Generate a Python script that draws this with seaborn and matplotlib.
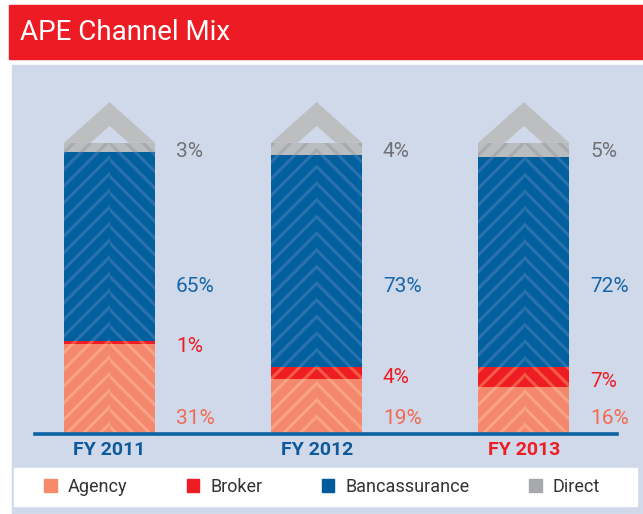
import numpy as np
import pandas as pd
import matplotlib.pyplot as plt
import seaborn as sns
from matplotlib.patches import Rectangle, Polygon, Patch

years = ['FY 2011', 'FY 2012', 'FY 2013']
agency = [31, 19, 16]
broker = [1, 4, 7]
banc = [65, 73, 72]
direct = [3, 4, 5]
channels = ['Agency', 'Broker', 'Bancassurance', 'Direct']

sns.set_style('white')
plt.rcParams['font.family'] = ['Roboto', 'DejaVu Sans']
plt.rcParams['hatch.linewidth'] = 2.2

fills = {'Agency': '#f4886c', 'Broker': '#ee1d23', 'Bancassurance': '#03609f', 'Direct': '#babcbf'}
hatches = {'Agency': '#f9a286', 'Broker': '#f55a44', 'Bancassurance': '#2a72ad', 'Direct': '#a8aaae'}
legend_cols = {'Agency': '#f68b6c', 'Broker': '#ee1d23', 'Bancassurance': '#005b9a', 'Direct': '#a7a9ac'}
label_cols = {'Agency': '#f26a4f', 'Broker': '#ee1d23', 'Bancassurance': '#1565a8', 'Direct': '#707174'}

df = pd.DataFrame({'year': years, 'Agency': agency, 'Broker': broker,
                   'Bancassurance': banc, 'Direct': direct})
cum = df[channels].cumsum(axis=1)

W, H = 643, 514
fig = plt.figure(figsize=(W / 100, H / 100), dpi=100)
fig.patch.set_facecolor('white')

# panel + title bar
fig.patches.append(Rectangle((12 / W, 0), 1, (H - 65) / H, transform=fig.transFigure,
                             color='#cfd9ea', zorder=-10))
fig.patches.append(Rectangle((9 / W, (H - 59) / H), 1, 54 / H, transform=fig.transFigure,
                             color='#ed1c24', zorder=-10))
fig.text(20 / W, (H - 32) / H, 'APE Channel Mix', color='white', fontsize=20,
         va='center', ha='left')

ax = fig.add_axes([35 / W, (H - 434) / H, 582 / W, 354 / H])
ax.set_facecolor('none')

bw = 0.44
# draw from top layer down so each layer covers the one above it
for ch in channels[::-1]:
    n0 = len(ax.patches)
    sns.barplot(x=df['year'], y=cum[ch], color=fills[ch], saturation=1, width=bw,
                hatch='//', edgecolor=hatches[ch], linewidth=0, errorbar=None, ax=ax)
    for p in ax.patches[n0:]:
        w = p.get_width()
        ax.bar(p.get_x() + w / 2, p.get_height(), width=w / 2, bottom=p.get_y(),
               align='edge', color=fills[ch], hatch='\\\\', edgecolor=hatches[ch],
               linewidth=0)
    if ch == 'Direct':
        tops = list(ax.patches[n0:n0 + len(years)])

# roof chevrons on top of each bar
for p in tops:
    x0 = p.get_x()
    w = p.get_width()
    xc = x0 + w / 2
    t = p.get_y() + p.get_height()
    pts = [(x0, t), (xc, t + 14), (x0 + w, t), (xc + 0.21 * w, t), (xc, t + 5.8),
           (xc - 0.21 * w, t)]
    ax.add_patch(Polygon(pts, closed=True, color='#bdbec0', lw=0))

# value labels
fs = 15
for i in range(len(years)):
    lx = i + 0.32
    ax.text(lx, cum['Direct'][i] - 3, f"{direct[i]}%", color=label_cols['Direct'],
            fontsize=fs, va='center')
    ax.text(lx, 50.5, f"{banc[i]}%", color=label_cols['Bancassurance'],
            fontsize=fs, va='center')
    ax.text(lx, agency[i] + broker[i] / 2 - 1.5, f"{broker[i]}%", color=label_cols['Broker'],
            fontsize=fs, va='center')
    ax.text(lx, 5.2, f"{agency[i]}%", color=label_cols['Agency'],
            fontsize=fs, va='center')

ax.set_xlim(-0.36, 2.45)
ax.set_ylim(0, 121.6)
ax.set_xlabel('')
ax.set_ylabel('')
ax.set_yticks([])
ax.set_xticks(range(len(years)))
ax.set_xticklabels(years, fontsize=14, fontweight='bold')
for lab, c in zip(ax.get_xticklabels(), ['#0d5a9c', '#0d5a9c', '#ee1d23']):
    lab.set_color(c)
ax.tick_params(axis='x', length=0, pad=5)
for s in ['top', 'left', 'right']:
    ax.spines[s].set_visible(False)
ax.spines['bottom'].set_color('#0a64a4')
ax.spines['bottom'].set_linewidth(2.6)

# legend box
fig.patches.append(Rectangle((14 / W, (H - 506) / H), 623 / W, 38 / H,
                             transform=fig.transFigure, color='white', zorder=-5))
handles = [Patch(color=legend_cols[c], label=c) for c in channels]
fig.legend(handles=handles, loc='center', bbox_to_anchor=(322 / W, (H - 487) / H),
           ncol=4, frameon=False, fontsize=13, handlelength=0.7, handleheight=0.7,
           handletextpad=0.6, columnspacing=3.3, labelcolor='#333333')

plt.savefig('out.png', dpi=100)
